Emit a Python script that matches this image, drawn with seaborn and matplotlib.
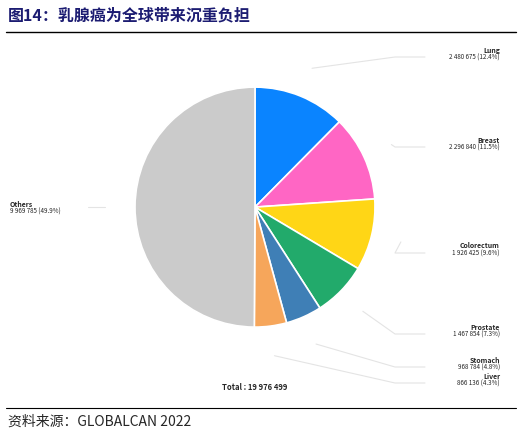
import numpy as np
import matplotlib.pyplot as plt
import seaborn as sns
from matplotlib.lines import Line2D

sns.set_theme(style="white")
plt.rcParams['font.family'] = ['Noto Sans CJK SC', 'DejaVu Sans']

# data
cancers = ['Lung', 'Breast', 'Colorectum', 'Prostate', 'Stomach', 'Liver', 'Others']
cases = [2480675, 2296840, 1926425, 1467854, 968784, 866136, 9969785]
case_txt = ['2 480 675 (12.4%)', '2 296 840 (11.5%)', '1 926 425 (9.6%)',
            '1 467 854 (7.3%)', '968 784 (4.8%)', '866 136 (4.3%)', '9 969 785 (49.9%)']
colors = ['#0a84ff', '#ff66c4', '#ffd616', '#22aa6b', '#3f7fb6', '#f6a65b', '#cbcbcb']
total_txt = 'Total : 19 976 499'

fig = plt.figure(figsize=(5.22, 4.36), dpi=100)
ax = fig.add_axes([0.201, 0.181, 0.575, 0.688])
wedges, _ = ax.pie(cases, colors=colors, startangle=90, counterclock=False,
                   wedgeprops=dict(edgecolor='white', linewidth=1.2))
ax.set_aspect('equal')

# label positions (figure pixel y from top)
label_y = [50, 140, 246, 327, 360, 376]
W, H = 522, 436
cx, cy, r = 255, 207, 150
for w, name, txt, ly in zip(wedges[:6], cancers[:6], case_txt[:6], label_y):
    ang = np.deg2rad((w.theta1 + w.theta2) / 2)
    px, py = cx + r * np.cos(ang), cy - r * np.sin(ang)
    fig.add_artist(Line2D([px / W, 395 / W, 425 / W], [1 - py / H, 1 - (ly + 7) / H, 1 - (ly + 7) / H],
                          color='#e4e4e4', lw=0.8))
    fig.text(500 / W, 1 - ly / H, name, ha='right', va='center', fontsize=5, fontweight='bold')
    fig.text(500 / W, 1 - (ly + 8) / H, txt, ha='right', va='center', fontsize=4.5)

fig.add_artist(Line2D([88 / W, 105 / W], [1 - 207 / H, 1 - 207 / H], color='#e4e4e4', lw=0.8))
fig.text(10 / W, 1 - 204 / H, cancers[6], ha='left', va='center', fontsize=5, fontweight='bold')
fig.text(10 / W, 1 - 212 / H, case_txt[6], ha='left', va='center', fontsize=4.5)
fig.text(255 / W, 1 - 387 / H, total_txt, ha='center', va='center', fontsize=5.5, fontweight='bold')

fig.text(8 / W, 1 - 15 / H, '图14：乳腺癌为全球带来沉重负担', ha='left', va='center',
         fontsize=11.5, fontweight='bold', color='#1c1c72')
fig.add_artist(Line2D([6 / W, 516 / W], [1 - 32 / H, 1 - 32 / H], color='black', lw=1))
fig.add_artist(Line2D([6 / W, 516 / W], [1 - 408 / H, 1 - 408 / H], color='black', lw=0.8))
fig.text(8 / W, 1 - 422 / H, '资料来源：GLOBALCAN 2022', ha='left', va='center', fontsize=10)

fig.savefig('out.png', dpi=100)
